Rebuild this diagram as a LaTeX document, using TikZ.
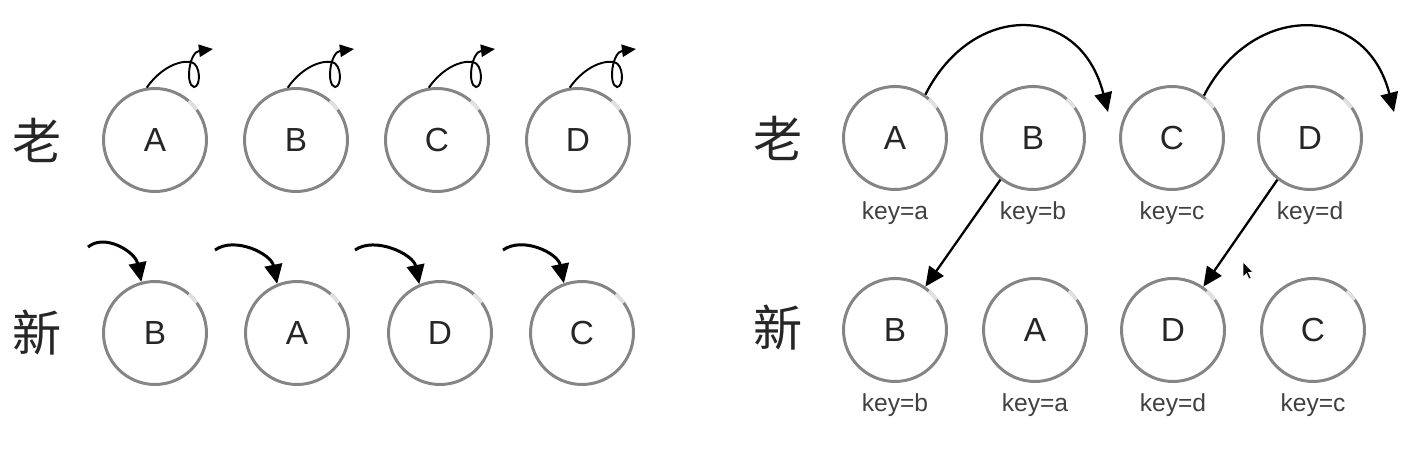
\documentclass[tikz,border=0pt]{standalone}
\usepackage{fontspec}
\setmainfont{Liberation Sans}
\newfontfamily\cjk{Noto Sans CJK SC}
\usetikzlibrary{arrows.meta,calc}
\begin{document}
\begin{tikzpicture}[x=0.02cm,y=-0.02cm,
  ball/.style={circle,draw=black!48,line width=1.7pt,minimum size=2.06cm,inner sep=0pt,
    font=\fontsize{19}{19}\selectfont,text=black!85},
  keylab/.style={font=\fontsize{14}{14}\selectfont,text=black!75},
  han/.style={font=\cjk\fontsize{28}{28}\selectfont,text=black!85},
  conn/.style={line width=1.3pt,-{Triangle[length=11pt,width=10pt]}},
  selfloop/.style={line width=1.1pt,-{Triangle[length=8pt,width=7pt]}},
  moveto/.style={line width=1.7pt,-{Triangle[length=11pt,width=10pt]}},
  gap/.style={black!12,line width=2pt},
  cursor/.style={fill=black,draw=white,line width=0.3pt}
]
\useasboundingbox (0,0) rectangle (1425,449);

% row labels
\node[han] (lo1) at (37,140) {老};
\node[han] (ln1) at (37,333) {新};
\node[han] (lo2) at (778,138) {老};
\node[han] (ln2) at (778,328) {新};

% left diagram
\node[ball] (oA) at (155,140) {A};
\node[ball] (oB) at (296,140) {B};
\node[ball] (oC) at (437,140) {C};
\node[ball] (oD) at (578,140) {D};
\node[ball] (nB) at (155,333) {B};
\node[ball] (nA) at (297,333) {A};
\node[ball] (nD) at (440,333) {D};
\node[ball] (nC) at (582,333) {C};

% right diagram
\node[ball] (oA2) at (895,138) {A};
\node[ball] (oB2) at (1033,138) {B};
\node[ball] (oC2) at (1172,138) {C};
\node[ball] (oD2) at (1310,138) {D};
\node[ball] (nB2) at (895,330) {B};
\node[ball] (nA2) at (1035,330) {A};
\node[ball] (nD2) at (1173,330) {D};
\node[ball] (nC2) at (1313,330) {C};

\node[keylab] (kA) at (895,213) {key=a};
\node[keylab] (kB) at (1033,213) {key=b};
\node[keylab] (kC) at (1172,213) {key=c};
\node[keylab] (kD) at (1310,213) {key=d};
\node[keylab] (kB2) at (895,405) {key=b};
\node[keylab] (kA2) at (1035,405) {key=a};
\node[keylab] (kD2) at (1173,405) {key=d};
\node[keylab] (kC2) at (1313,405) {key=c};

% light breaks in the circles
\foreach \n in {oA,oB,oC,oD,nB,nA,nD,nC,oA2,oB2,oC2,oD2,nB2,nA2,nD2,nC2}
  \draw[gap] ($(\n.center)+(36:1.03cm)$) arc[start angle=36,end angle=49,radius=1.03cm];

% self loops (old row, left)
\foreach \n in {oA,oB,oC,oD}
  \draw[selfloop,shift={(\n.center)}] (\n.99) .. controls (4,-70) and (22,-80) .. (36,-78)
     .. controls (46,-76) and (46,-53) .. (39,-53)
     .. controls (30,-55) and (34,-88) .. (58,-91);

% incoming arrows (new row, left)
\coordinate (s1) at (88,247);
\coordinate (s2) at (215,250);
\coordinate (s3) at (355,250);
\coordinate (s4) at (503,250);
\draw[moveto] (s1) .. controls +(17,-14) and +(-6,-30) .. (nB.105);
\draw[moveto] (s2) .. controls +(20,-14) and +(-6,-30) .. (nA.112);
\draw[moveto] (s3) .. controls +(20,-14) and +(-6,-30) .. (nD.113);
\draw[moveto] (s4) .. controls +(20,-14) and +(-6,-30) .. (nC.110);

% right diagram connectors
\coordinate (t1) at (1108,112);
\coordinate (t2) at (1394,112);
\draw[conn] (oA2.55) .. controls (972,2) and (1080,2) .. (t1);
\draw[conn] (oC2.53) .. controls (1252,2) and (1366,2) .. (t2);
\draw[conn] (oB2.232) -- (nB2.55);
\draw[conn] (oD2.232) -- (nD2.55);

% mouse pointer
\draw[cursor] (1243,262) -- (1243,277) -- (1246.5,273.5) -- (1249,279) -- (1251,278) -- (1248.5,272.5) -- (1253,272.5) -- cycle;
\end{tikzpicture}
\end{document}
